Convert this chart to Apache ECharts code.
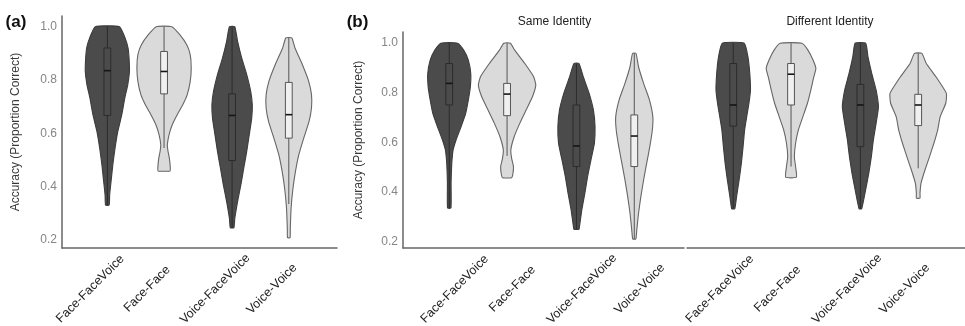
<!DOCTYPE html>
<html>
<head>
<meta charset="utf-8">
<script src="https://cdn.jsdelivr.net/npm/echarts@6.0.0/dist/echarts.min.js"></script>
<style>
  html, body { margin: 0; padding: 0; background: #fff; }
  #chart { width: 965px; height: 326px; }
</style>
</head>
<body>
<div id="chart"></div>
<script>
const categories = ['Face-FaceVoice', 'Face-Face', 'Voice-FaceVoice', 'Voice-Voice'];
const yTicks = [0.2, 0.4, 0.6, 0.8, 1.0];

// violin outlines: [accuracy, density], top to bottom
const violinsA = [
  [[1.0, 12.2], [0.958, 17.8], [0.92, 20.8], [0.882, 21.8], [0.832, 22.2], [0.782, 20.5], [0.732, 17.5], [0.67, 14.5], [0.607, 10.5], [0.544, 7.7], [0.482, 5.5], [0.419, 3.7], [0.369, 2.3], [0.331, 1.8]],
  [[1.0, 7.8], [0.97, 15.8], [0.932, 22.8], [0.895, 26.3], [0.845, 27.3], [0.795, 26.3], [0.745, 23.3], [0.707, 18.8], [0.67, 13.2], [0.632, 8.2], [0.594, 5], [0.557, 3.3], [0.532, 4], [0.507, 5.3], [0.475, 6.2], [0.459, 6]],
  [[1.0, 2.7], [0.945, 5.5], [0.882, 9.7], [0.82, 14.7], [0.757, 18.7], [0.707, 20.3], [0.657, 19.7], [0.594, 17.2], [0.532, 14.7], [0.469, 11.7], [0.407, 8.8], [0.344, 5.5], [0.281, 2.7], [0.246, 1.8]],
  [[0.958, 3], [0.92, 6.2], [0.857, 13.7], [0.795, 20], [0.745, 22.8], [0.695, 22.8], [0.644, 20.3], [0.582, 15], [0.519, 10], [0.457, 6.7], [0.394, 4.2], [0.319, 2.3], [0.244, 1.5], [0.209, 1.3]]
];
const violinsSame = [
  [[1.0, 8.3], [0.972, 14.2], [0.932, 18.8], [0.878, 21.2], [0.824, 20.8], [0.771, 18.8], [0.717, 16.2], [0.664, 11.7], [0.61, 6.7], [0.57, 3.8], [0.516, 2.5], [0.436, 1.8], [0.336, 1.7]],
  [[1.0, 3.3], [0.972, 7.5], [0.918, 17.5], [0.865, 26.2], [0.831, 28.3], [0.784, 25], [0.731, 18.8], [0.677, 12.5], [0.623, 7], [0.57, 3.7], [0.536, 4.5], [0.503, 6.3], [0.475, 5.8], [0.458, 4.5]],
  [[0.918, 2.5], [0.865, 6.7], [0.798, 12.5], [0.731, 16.7], [0.664, 18.3], [0.597, 17.7], [0.53, 14.3], [0.463, 11], [0.396, 8.3], [0.329, 5.3], [0.262, 3], [0.251, 2.5]],
  [[0.959, 1.7], [0.905, 4.2], [0.838, 9.2], [0.771, 15], [0.704, 18.3], [0.65, 17.8], [0.583, 15.3], [0.516, 12.2], [0.449, 9.2], [0.382, 6.5], [0.315, 4.2], [0.248, 2.5], [0.211, 1.5]]
];
const violinsDiff = [
  [[1.0, 10.8], [0.945, 14.5], [0.878, 16.3], [0.811, 17], [0.758, 15.5], [0.704, 13.3], [0.65, 11.2], [0.583, 9.7], [0.516, 8], [0.449, 5.8], [0.382, 3.3], [0.333, 1.5]],
  [[1.0, 10.8], [0.972, 16.7], [0.932, 21.7], [0.898, 24.5], [0.865, 22.5], [0.811, 19.5], [0.758, 16.2], [0.704, 11.7], [0.65, 7.2], [0.597, 4.5], [0.543, 3.3], [0.503, 4.5], [0.46, 5.3]],
  [[1.0, 5.2], [0.945, 7.5], [0.878, 11.2], [0.811, 15.5], [0.744, 17.8], [0.677, 15.5], [0.61, 12.8], [0.543, 10.8], [0.476, 8.3], [0.412, 5.3], [0.333, 1.3]],
  [[0.959, 3.7], [0.918, 8], [0.865, 17.5], [0.798, 27.8], [0.758, 27.2], [0.704, 21.7], [0.65, 19.2], [0.597, 15.5], [0.543, 11.2], [0.489, 6.7], [0.436, 2.8], [0.396, 1.8], [0.376, 1.8]]
];

// boxplots: [whisker low, Q1, median, Q3, whisker high]
const boxesA = [
  [0.331, 0.667, 0.835, 0.92, 1.0],
  [0.545, 0.748, 0.832, 0.907, 1.0],
  [0.246, 0.498, 0.667, 0.748, 1.0],
  [0.335, 0.582, 0.67, 0.791, 0.958]
];
const boxesSame = [
  [0.336, 0.751, 0.838, 0.918, 1.0],
  [0.546, 0.708, 0.795, 0.838, 1.0],
  [0.251, 0.503, 0.586, 0.751, 0.918],
  [0.211, 0.503, 0.626, 0.711, 0.959]
];
const boxesDiff = [
  [0.333, 0.666, 0.751, 0.918, 1.0],
  [0.503, 0.751, 0.875, 0.918, 1.0],
  [0.333, 0.583, 0.751, 0.834, 1.0],
  [0.496, 0.668, 0.751, 0.794, 0.959]
];

// dodged slots on the x axis (two groups of two)
const xSlots = [1, 2, 3.2, 4.2];
const DENSITY_TO_X = 1 / 57;
const BOX_HALF = 3.4;
const FONT = '"Liberation Sans", Arial, sans-serif';

const chart = echarts.init(document.getElementById('chart'));

function catName(v) {
  let best = 0;
  xSlots.forEach((s, i) => { if (Math.abs(s - v) < Math.abs(xSlots[best] - v)) best = i; });
  return categories[best];
}

function makeX(gridIndex, max, shift, margin) {
  const pad = Math.abs(shift) / 0.3536;
  return {
    type: 'value', gridIndex, min: 0.2, max,
    axisLine: { onZero: false, lineStyle: { color: '#666', width: 1.5 } },
    axisTick: { show: false },
    splitLine: { show: false },
    axisLabel: {
      customValues: xSlots,
      formatter: catName,
      rotate: 45,
      align: 'center',
      verticalAlign: 'middle',
      margin,
      padding: shift < 0 ? [0, pad, 0, 0] : [0, 0, 0, pad],
      color: '#1e1e1e',
      fontSize: 12.5,
      fontFamily: FONT
    }
  };
}

function makeY(gridIndex, min, max, show, nameGap) {
  return {
    type: 'value', gridIndex, min, max, show,
    name: 'Accuracy (Proportion Correct)',
    nameLocation: 'middle',
    nameGap,
    nameTextStyle: { color: '#3a3a3a', fontSize: 12, fontFamily: FONT },
    axisLine: { show: true, onZero: false, lineStyle: { color: '#666', width: 1.5 } },
    axisTick: { show: false },
    splitLine: { show: false },
    axisLabel: {
      customValues: yTicks,
      formatter: v => v.toFixed(1),
      margin: 5,
      color: '#868686',
      fontSize: 12,
      fontFamily: FONT
    }
  };
}

function violinSeries(idx, profiles, boxes) {
  return {
    type: 'custom',
    xAxisIndex: idx,
    yAxisIndex: idx,
    clip: false,
    data: xSlots.map((x, i) => [x, boxes[i][2]]),
    renderItem: function (params, api) {
      const i = params.dataIndex;
      const x = api.value(0);
      const prof = profiles[i];
      const box = boxes[i];
      const dark = i % 2 === 0;
      const left = prof.map(p => api.coord([x - p[1] * DENSITY_TO_X, p[0]]));
      const right = prof.slice().reverse().map(p => api.coord([x + p[1] * DENSITY_TO_X, p[0]]));
      const cx = api.coord([x, box[2]])[0];
      const lo = api.coord([x, box[0]])[1];
      const q1 = api.coord([x, box[1]])[1];
      const med = api.coord([x, box[2]])[1];
      const q3 = api.coord([x, box[3]])[1];
      const hi = api.coord([x, box[4]])[1];
      const edge = dark ? '#2c2c2c' : '#555';
      return {
        type: 'group',
        children: [
          {
            type: 'polygon',
            shape: { points: left.concat(right), smooth: 0.15 },
            style: { fill: dark ? '#4b4b4b' : '#dadada', stroke: dark ? '#3c3c3c' : '#666', lineWidth: 1.1 }
          },
          {
            type: 'line',
            shape: { x1: cx, y1: hi, x2: cx, y2: lo },
            style: { stroke: edge, lineWidth: 1 }
          },
          {
            type: 'rect',
            shape: { x: cx - BOX_HALF, y: q3, width: BOX_HALF * 2, height: q1 - q3 },
            style: { fill: dark ? '#4b4b4b' : '#f0f0f0', stroke: edge, lineWidth: 1 }
          },
          {
            type: 'line',
            shape: { x1: cx - BOX_HALF, y1: med, x2: cx + BOX_HALF, y2: med },
            style: { stroke: '#151515', lineWidth: 1.6 }
          }
        ]
      };
    }
  };
}

function label(text, x, y, size, weight, color) {
  return {
    type: 'text', x, y,
    style: { text, fontSize: size, fontWeight: weight, fontFamily: FONT, fill: color, align: 'center', verticalAlign: 'middle' }
  };
}

chart.setOption({
  animation: false,
  grid: [
    { left: 62, top: 16, width: 275, height: 232, outerBoundsMode: 'none' },
    { left: 403, top: 32, width: 281, height: 216, outerBoundsMode: 'none' },
    { left: 687, top: 32, width: 278, height: 216, outerBoundsMode: 'none' }
  ],
  xAxis: [
    makeX(0, 5.05, -17, 24),
    makeX(1, 5.06, 5.4, 46.4),
    makeX(2, 5.01, -13.5, 27.5)
  ],
  yAxis: [
    makeY(0, 0.17, 1.04, true, 40),
    makeY(1, 0.175, 1.045, true, 38),
    makeY(2, 0.175, 1.045, false, 38)
  ],
  graphic: [
    label('(a)', 16, 22, 17, 'bold', '#111'),
    label('(b)', 357.5, 22, 17, 'bold', '#111'),
    label('Same Identity', 554.5, 22, 12, 'normal', '#222'),
    label('Different Identity', 830, 22, 12, 'normal', '#222')
  ],
  series: [
    violinSeries(0, violinsA, boxesA),
    violinSeries(1, violinsSame, boxesSame),
    violinSeries(2, violinsDiff, boxesDiff)
  ]
});
</script>
</body>
</html>
